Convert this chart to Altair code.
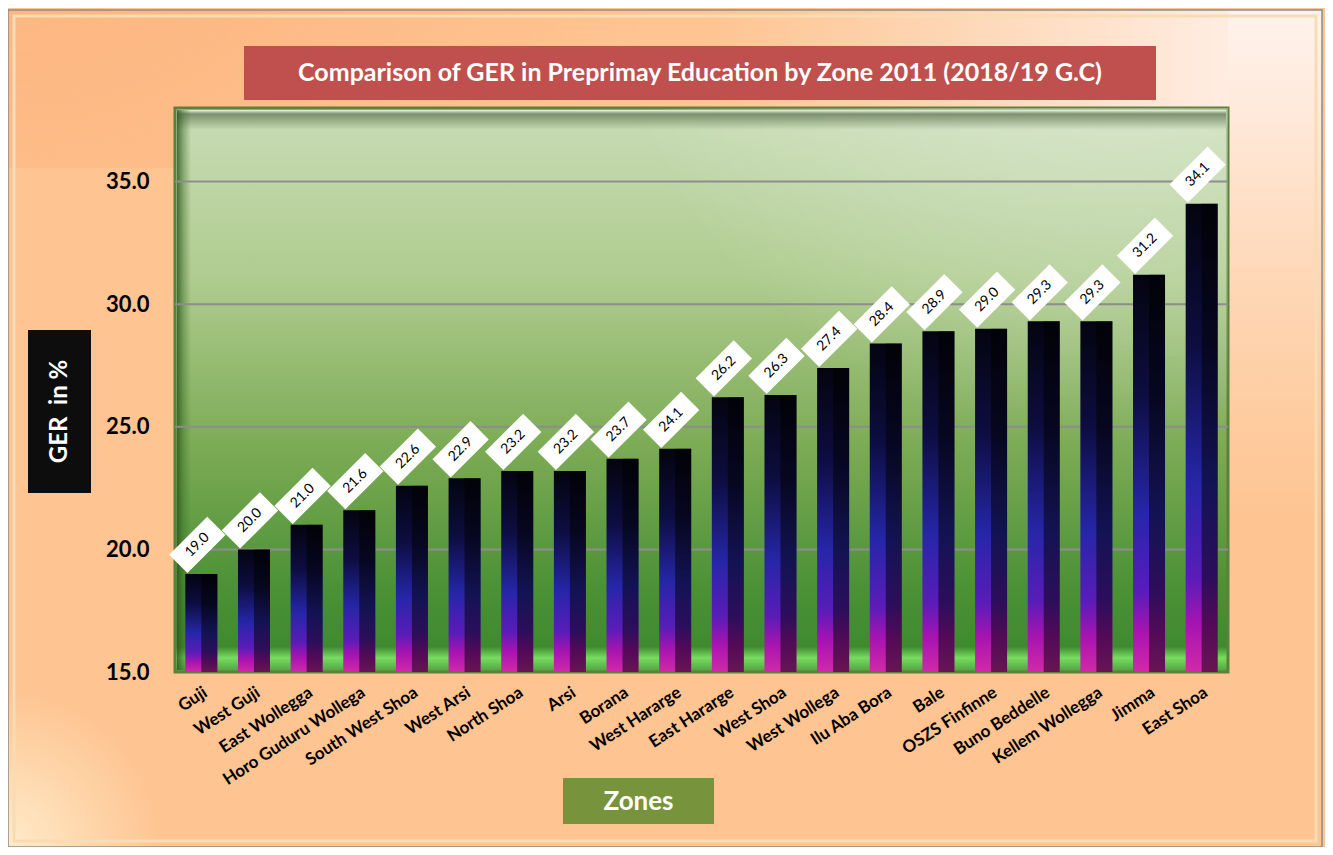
import altair as alt
import pandas as pd

# ---- data ----
zones = ["Guji", "West Guji", "East Wollegga", "Horo Guduru Wollega", "South West Shoa",
         "West Arsi", "North Shoa", "Arsi", "Borana", "West Hararge", "East Hararge",
         "West Shoa", "West Wollega", "Ilu Aba Bora", "Bale", "OSZS Finfinne",
         "Buno Beddelle", "Kellem Wollegga", "Jimma", "East Shoa"]
ger = [19.0, 20.0, 21.0, 21.6, 22.6, 22.9, 23.2, 23.2, 23.7, 24.1, 26.2,
       26.3, 27.4, 28.4, 28.9, 29.0, 29.3, 29.3, 31.2, 34.1]
y_ticks = [15, 20, 25, 30, 35]
grid_values = [20, 25, 30, 35]
title_text = "Comparison of GER in Preprimay Education by Zone 2011 (2018/19 G.C)"
y_title = "GER\u00a0 in %"
x_title = "Zones"

W, H = 1053, 564
FONT = "Lato"
PAGE_BG = "#FEC491"

df = pd.DataFrame({"zone": zones, "ger": ger})
one = pd.DataFrame({"k": [0]})
gdf = pd.DataFrame({"g": grid_values})


def lin(stops, x1=0, y1=0, x2=0, y2=1):
    return {"gradient": "linear", "x1": x1, "y1": y1, "x2": x2, "y2": y2,
            "stops": [{"offset": o, "color": c} for o, c in stops]}


def rad(stops, cx, cy, r):
    return {"gradient": "radial", "x1": cx, "y1": cy, "x2": cx, "y2": cy, "r1": 0, "r2": r,
            "stops": [{"offset": o, "color": c} for o, c in stops]}


def box(x0, x1, y0, y1, **kw):
    return alt.Chart(one).mark_rect(**kw).encode(
        x=alt.value(x0), x2=alt.value(x1), y=alt.value(y0), y2=alt.value(y1))


def label(txt, x, y, **kw):
    return alt.Chart(one).mark_text(**kw).encode(
        x=alt.value(x), y=alt.value(y), text=alt.value(txt))


yscale = alt.Scale(domain=[15, 38], nice=False, zero=False)
xscale = alt.Scale(paddingInner=0, paddingOuter=0)


def X():
    return alt.X("zone:N", sort=zones, scale=xscale, title=None)


def Y(field="ger:Q"):
    return alt.Y(field, scale=yscale, title=None,
                 axis=alt.Axis(values=y_ticks, format=".1f"))


# ---- page decoration (kept clear of the axis-label zones) ----
tr_strip = box(1053, 1147, -98, 739, fill=lin([
    (0, "rgba(255,245,242,0.95)"), (0.12, "rgba(255,240,232,0.85)"),
    (0.62, "rgba(255,228,205,0)"), (1, "rgba(255,228,205,0)")]))
tr_top = box(525, 1053, -98, 0, fill=lin([
    (0, "rgba(255,238,228,0)"), (1, "rgba(255,242,236,0.88)")], 0, 0, 1, 0))
tl_blob = box(-167, 525, -98, 60, fill=rad([
    (0, "rgba(252,172,118,0.9)"), (1, "rgba(252,172,118,0)")], 0, 0, 1))
bl_blob = box(-167, -15, 582, 739, fill=rad([
    (0, "rgba(255,238,205,0.95)"), (1, "rgba(255,238,205,0)")], 0, 1, 1))
frame = box(-167, 1147, -98, 739, fill="transparent", stroke="#8c8c8c", strokeWidth=1.5)
bevel = box(-161, 1141, -92, 733, fill="transparent", stroke="#f7dcb4", strokeWidth=3)

# ---- title box ----
tbox = box(69, 981, -62, -8, fill="#C0504D")
ttxt = label(title_text, 525, -35, font=FONT, fontSize=25, fontWeight="bold",
             color="white", align="center", baseline="middle")

# ---- plot area ----
plot_bg = box(0, W, 0, H,
              fill=lin([(0, "#c9dcb6"), (0.3, "#b0cc90"), (0.6, "#7cab55"),
                        (0.85, "#4c9136"), (0.955, "#3f8a2f"), (0.975, "#78dc62"),
                        (1, "#4ea03c")]),
              stroke="#5f7f3c", strokeWidth=3)
plot_hi = box(0, W, 0, H,
              fill=rad([(0, "rgba(230,240,225,0.7)"), (1, "rgba(230,240,225,0)")], 0.9, 0.05, 0.5))
top_wall = box(2, W - 2, 2, 22,
               fill=lin([(0, "rgba(240,245,235,0.9)"), (0.2, "rgba(110,130,95,0.85)"),
                         (1, "rgba(110,130,95,0)")]))
left_wall = box(2, 16, 2, H - 2,
                fill=lin([(0, "rgba(40,80,30,0.8)"), (0.5, "rgba(60,110,40,0.4)"),
                          (1, "rgba(60,110,40,0)")], 0, 0, 1, 0))

grid = alt.Chart(gdf).mark_rule(color="#8d8d8d", strokeWidth=2).encode(
    y=Y("g:Q"), x=alt.value(0), x2=alt.value(W))

# ---- bars ----
bar_fill = lin([(0, "#040410"), (0.3, "#0d0d40"), (0.6, "#2626a8"),
                (0.8, "#5a1cb8"), (0.9, "#a814b0"), (1, "#d02aa8")])

bars = alt.Chart(df).mark_bar(width=32, fill=bar_fill).encode(
    x=X(), y=Y(), y2=alt.datum(15))
side = alt.Chart(df).mark_bar(width=16, xOffset=8, fill="black", opacity=0.5).encode(
    x=X(), y=Y(), y2=alt.datum(15))

# ---- value labels ----
b = 0.48
k = 0.70711
pts = [(k + b * k, -k + b * k), (k - b * k, -k - b * k),
       (-k - b * k, k - b * k), (-k + b * k, k + b * k)]
diamond = "M " + " L ".join(f"{px:.4f} {py:.4f}" for px, py in pts) + " Z"
lbl_box = alt.Chart(df).mark_point(shape=diamond, size=2900, filled=True, fill="white",
                                   opacity=1, strokeWidth=0, yOffset=-29, xOffset=-4).encode(
    x=X(), y=Y())
lbl_txt = alt.Chart(df).mark_text(angle=315, font=FONT, fontSize=14, color="black",
                                  align="center", baseline="middle",
                                  yOffset=-29, xOffset=-4).encode(
    x=X(), y=Y(), text=alt.Text("ger:Q", format=".1f"))

# ---- axis titles ----
ybox = box(-147, -84, 222, 385, fill="#0D0D0D")
ytxt = label(y_title, -115.5, 303.5, font=FONT, fontSize=24, fontWeight="bold",
             color="white", angle=270, align="center", baseline="middle")
xbox = box(388, 539, 670, 716, fill="#77933C")
xtxt = label(x_title, 463.5, 694, font=FONT, fontSize=26, fontWeight="bold",
             color="white", align="center", baseline="middle")

chart = alt.layer(
    tr_strip, tr_top, tl_blob, bl_blob, frame, bevel, tbox, ttxt,
    plot_bg, plot_hi, top_wall, left_wall, grid,
    bars, side, lbl_box, lbl_txt,
    ybox, ytxt, xbox, xtxt,
).properties(
    width=W, height=H,
    padding={"left": 167, "top": 100, "right": 97, "bottom": 175},
    autosize=alt.AutoSizeParams(type="none"),
).configure(background=PAGE_BG).configure_view(stroke=None).configure_axis(
    zindex=1, ticks=False, domain=False, grid=False, labelLimit=400,
    labelFont=FONT, labelFontWeight="bold", labelColor="black",
).configure_axisX(
    labelAngle=-33, labelAlign="right", labelBaseline="top", labelFontSize=17,
    labelPadding=12, labelOverlap=False,
).configure_axisY(
    labelFontSize=22, labelPadding=26,
)

chart.save("out.html", embed_options={"renderer": "svg", "actions": False})
